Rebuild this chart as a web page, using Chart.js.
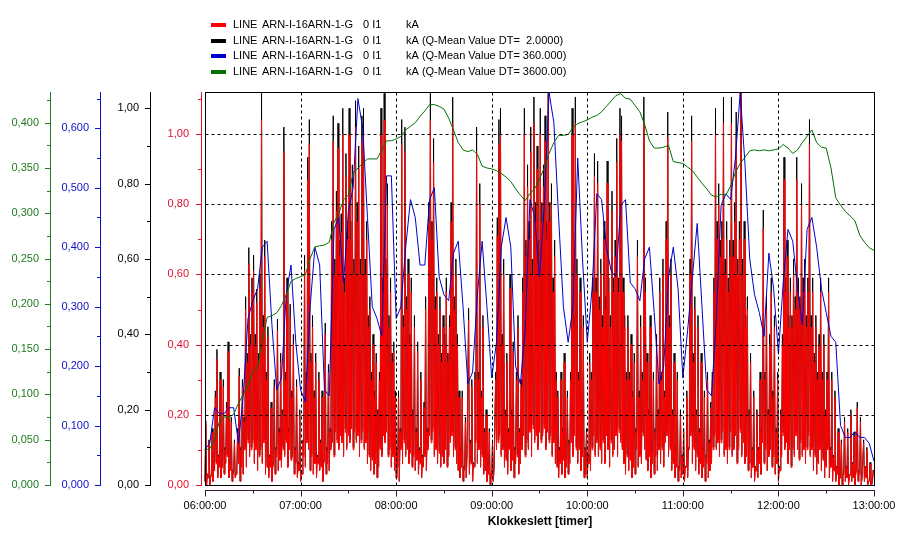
<!DOCTYPE html>
<html><head><meta charset="utf-8">
<script src="https://cdn.jsdelivr.net/npm/chart.js@4.4.1/dist/chart.umd.min.js"></script>
<style>html,body{margin:0;padding:0;background:#fff;}canvas{display:block;}</style>
</head><body>
<canvas id="c" width="901" height="542"></canvas>
<script>
// ---- data (kA), time in minutes after 06:00 ----
const RED_STEP = 1;   // minutes per raw bucket (min / max of the 2 s samples)
const MEAN_STEP = 3;  // minutes between mean samples
const redMax = [
0.17,0.03,0.12,0.02,0.15,0.05,0.25,0.36,0.08,0.30,
0.05,0.28,0.10,0.22,0.38,0.06,0.18,0.04,0.12,0.03,
0.15,0.31,0.10,0.28,0.18,0.50,0.35,0.63,0.40,0.55,
0.61,0.40,0.52,0.35,0.56,1.04,0.45,0.65,0.30,0.42,
0.08,0.22,0.05,0.28,0.10,0.44,0.15,0.35,0.20,0.95,
0.30,0.55,0.15,0.48,0.25,0.40,0.10,0.28,0.06,0.20,
0.04,0.12,0.61,0.30,0.87,0.97,0.35,0.45,0.25,0.35,
0.08,0.30,0.12,0.25,0.06,0.43,0.10,0.32,0.15,0.70,
0.98,0.60,0.78,0.96,0.65,0.72,1.00,0.55,0.88,0.70,
1.00,0.70,0.85,0.60,1.02,0.75,0.90,0.60,0.98,1.00,
0.60,0.70,0.45,0.50,0.30,0.40,0.25,0.35,0.20,0.30,
1.00,0.55,1.04,0.60,0.80,0.45,0.55,0.35,0.38,0.25,
0.10,0.25,0.15,0.97,0.45,0.95,0.50,0.60,0.40,0.55,
0.20,0.45,0.15,0.38,0.10,0.30,0.08,0.22,0.50,0.15,
0.75,1.04,0.70,0.92,0.50,0.55,0.40,0.50,0.35,0.45,
0.40,0.55,0.35,0.45,0.75,1.03,0.50,0.60,0.40,0.25,
0.10,0.25,0.05,0.18,0.08,0.47,0.12,0.28,0.06,0.30,
0.95,0.30,0.80,0.25,0.45,0.15,0.20,0.06,0.15,0.03,
0.12,0.05,0.30,0.71,0.97,1.00,0.40,0.60,0.20,0.35,
0.15,0.56,0.20,0.38,0.10,0.30,0.45,0.15,0.28,0.55,
1.00,0.65,0.85,0.70,0.95,0.60,1.03,0.75,0.90,0.65,
1.00,0.75,0.85,0.98,0.70,1.11,0.75,0.80,0.55,0.65,
0.30,0.25,0.10,0.30,0.15,0.35,0.08,0.25,0.12,0.30,
1.00,0.45,1.03,0.60,0.30,0.55,0.20,0.45,0.10,0.15,
0.08,0.35,0.30,0.55,0.88,0.55,0.86,0.50,0.60,0.45,
0.70,0.50,0.86,0.55,0.45,0.78,0.55,0.65,0.92,0.55,
1.00,0.98,0.55,0.45,0.30,0.45,0.30,0.40,0.25,0.35,
0.15,0.65,0.25,0.45,0.30,1.03,0.55,0.35,0.20,0.45,
0.10,0.30,0.15,0.40,0.20,0.55,0.30,0.60,0.25,0.70,
0.99,0.45,0.60,0.20,0.35,0.10,0.30,0.05,0.20,0.08,
0.15,0.05,0.25,0.10,0.60,0.98,0.35,0.50,0.20,0.45,
0.15,0.35,0.10,0.25,0.08,0.30,0.12,0.22,0.30,0.55,
1.00,0.70,0.80,0.65,0.70,1.03,0.60,0.70,0.55,0.65,
1.03,0.65,0.75,0.99,0.60,0.70,1.12,0.60,0.70,0.45,
0.50,0.20,0.35,0.10,0.25,0.05,0.20,0.10,0.30,0.15,
0.73,0.30,0.50,0.20,0.40,0.55,0.25,0.45,0.15,0.30,
0.05,0.20,0.40,0.87,0.55,0.65,0.45,0.55,0.45,0.60,
0.50,0.87,0.55,0.50,0.80,0.55,0.60,0.45,0.55,0.97,
0.45,0.55,0.35,0.45,0.30,0.40,0.55,0.30,0.40,0.20,
0.30,0.55,0.10,0.30,0.08,0.25,0.05,0.15,0.02,0.12,
0.03,0.18,0.05,0.15,0.02,0.20,0.06,0.14,0.03,0.22,
0.04,0.18,0.02,0.12,0.05,0.10,0.01,0.06,0.00,0.04,
0.12];
const redMin = [
0.01,0.00,0.02,0.00,0.03,0.01,0.04,0.06,0.02,0.05,
0.02,0.05,0.03,0.06,0.08,0.02,0.04,0.01,0.03,0.02,
0.04,0.06,0.01,0.05,0.03,0.10,0.05,0.12,0.08,0.10,
0.12,0.06,0.10,0.04,0.08,0.10,0.06,0.12,0.03,0.05,
0.02,0.05,0.01,0.06,0.03,0.08,0.04,0.07,0.05,0.10,
0.08,0.12,0.05,0.10,0.07,0.08,0.03,0.06,0.02,0.04,
0.01,0.03,0.08,0.05,0.12,0.10,0.04,0.08,0.03,0.06,
0.02,0.06,0.04,0.05,0.01,0.07,0.03,0.06,0.04,0.10,
0.12,0.08,0.15,0.12,0.10,0.14,0.12,0.08,0.15,0.10,
0.14,0.12,0.16,0.10,0.15,0.12,0.14,0.08,0.12,0.15,
0.10,0.12,0.06,0.08,0.04,0.07,0.03,0.06,0.02,0.05,
0.10,0.08,0.14,0.12,0.15,0.08,0.10,0.05,0.08,0.04,
0.02,0.05,0.01,0.10,0.06,0.12,0.08,0.10,0.06,0.09,
0.05,0.08,0.04,0.07,0.03,0.06,0.02,0.05,0.08,0.04,
0.10,0.14,0.12,0.15,0.08,0.10,0.06,0.09,0.05,0.08,
0.06,0.10,0.05,0.08,0.12,0.14,0.08,0.10,0.06,0.04,
0.02,0.05,0.01,0.04,0.02,0.08,0.03,0.06,0.01,0.05,
0.12,0.06,0.10,0.05,0.08,0.03,0.04,0.01,0.03,0.00,
0.02,0.01,0.05,0.10,0.12,0.14,0.08,0.10,0.05,0.07,
0.03,0.10,0.04,0.07,0.02,0.06,0.08,0.03,0.06,0.10,
0.14,0.08,0.12,0.10,0.15,0.08,0.16,0.12,0.14,0.10,
0.15,0.12,0.14,0.16,0.10,0.15,0.12,0.14,0.08,0.12,
0.06,0.05,0.02,0.06,0.03,0.07,0.02,0.05,0.03,0.06,
0.12,0.08,0.14,0.10,0.06,0.10,0.04,0.08,0.02,0.03,
0.02,0.06,0.04,0.10,0.14,0.08,0.12,0.08,0.10,0.06,
0.12,0.06,0.14,0.10,0.05,0.12,0.08,0.10,0.14,0.08,
0.15,0.12,0.10,0.06,0.03,0.08,0.04,0.07,0.02,0.05,
0.03,0.10,0.05,0.08,0.06,0.14,0.10,0.07,0.04,0.08,
0.02,0.06,0.03,0.08,0.04,0.10,0.06,0.10,0.05,0.12,
0.14,0.08,0.10,0.04,0.06,0.02,0.05,0.01,0.04,0.02,
0.03,0.01,0.05,0.02,0.10,0.14,0.06,0.10,0.04,0.08,
0.03,0.06,0.02,0.05,0.01,0.06,0.02,0.04,0.06,0.10,
0.14,0.10,0.12,0.08,0.12,0.15,0.08,0.10,0.06,0.10,
0.15,0.08,0.10,0.14,0.06,0.10,0.15,0.08,0.12,0.06,
0.08,0.04,0.06,0.02,0.05,0.01,0.04,0.02,0.06,0.03,
0.12,0.06,0.10,0.04,0.08,0.10,0.05,0.08,0.03,0.06,
0.01,0.04,0.08,0.14,0.10,0.12,0.06,0.10,0.05,0.10,
0.08,0.14,0.10,0.07,0.12,0.08,0.10,0.06,0.10,0.14,
0.08,0.10,0.04,0.08,0.03,0.06,0.10,0.04,0.07,0.02,
0.05,0.10,0.02,0.05,0.01,0.04,0.01,0.03,0.00,0.02,
0.00,0.03,0.01,0.02,0.00,0.03,0.01,0.02,0.00,0.04,
0.01,0.03,0.00,0.02,0.01,0.02,0.00,0.01,0.00,0.01,
0.03];
// the 2 s mean is practically identical to the raw signal
const blackMax = redMax;
const blackMin = redMin;
const blueValues = [
0.06,0.07,0.13,0.12,0.12,0.13,0.13,0.07,0.15,0.28,
0.31,0.33,0.40,0.41,0.27,0.16,0.18,0.32,0.37,0.24,
0.16,0.14,0.30,0.40,0.37,0.16,0.15,0.43,0.45,0.34,
0.46,0.50,0.65,0.60,0.45,0.30,0.28,0.25,0.52,0.52,
0.28,0.30,0.40,0.48,0.45,0.37,0.37,0.48,0.50,0.35,
0.32,0.31,0.39,0.41,0.30,0.17,0.19,0.32,0.41,0.30,
0.18,0.24,0.40,0.45,0.40,0.20,0.17,0.26,0.48,0.45,
0.35,0.47,0.66,0.61,0.45,0.30,0.24,0.30,0.55,0.38,
0.24,0.33,0.49,0.48,0.40,0.36,0.35,0.47,0.48,0.34,
0.33,0.31,0.38,0.40,0.29,0.17,0.20,0.35,0.40,0.33,
0.18,0.26,0.35,0.44,0.30,0.16,0.15,0.28,0.47,0.49,
0.48,0.55,0.66,0.54,0.38,0.32,0.29,0.25,0.39,0.33,
0.22,0.34,0.43,0.41,0.33,0.27,0.43,0.45,0.40,0.33,
0.29,0.25,0.24,0.10,0.08,0.08,0.09,0.08,0.08,0.07,
0.04];
const greenValues = [
0.039,0.040,0.050,0.070,0.075,0.075,0.078,0.090,0.100,0.110,
0.125,0.130,0.160,0.185,0.187,0.190,0.198,0.210,0.225,0.228,
0.230,0.232,0.250,0.263,0.264,0.265,0.268,0.290,0.300,0.315,
0.320,0.344,0.350,0.355,0.360,0.360,0.360,0.370,0.380,0.380,
0.382,0.385,0.392,0.396,0.400,0.407,0.413,0.420,0.420,0.418,
0.415,0.405,0.392,0.378,0.370,0.368,0.370,0.365,0.352,0.350,
0.349,0.347,0.344,0.340,0.335,0.327,0.320,0.314,0.322,0.327,
0.338,0.350,0.366,0.378,0.386,0.386,0.387,0.395,0.399,0.401,
0.403,0.406,0.408,0.412,0.418,0.424,0.430,0.432,0.427,0.426,
0.419,0.412,0.398,0.380,0.372,0.372,0.373,0.375,0.357,0.356,
0.355,0.351,0.347,0.340,0.333,0.327,0.320,0.318,0.321,0.320,
0.330,0.345,0.355,0.362,0.369,0.370,0.369,0.370,0.369,0.370,
0.371,0.376,0.372,0.366,0.370,0.378,0.385,0.392,0.378,0.373,
0.372,0.350,0.317,0.309,0.302,0.297,0.292,0.276,0.268,0.262,
0.259];

const xTickValues = [0,60,120,180,240,300,360,420];
const xTickLabels = ['06:00:00','07:00:00','08:00:00','09:00:00','10:00:00','11:00:00','12:00:00','13:00:00'];
const xMinorTicks = [30,90,150,210,270,330,390];
const redTicks = [0,0.2,0.4,0.6,0.8,1.0];
const redMinor = [0.1,0.3,0.5,0.7,0.9,1.1];
const blackTicks = [0,0.2,0.4,0.6,0.8,1.0];
const blackMinor = [0.1,0.3,0.5,0.7,0.9];
const blueTicks = [0,0.1,0.2,0.3,0.4,0.5,0.6];
const blueMinor = [0.05,0.15,0.25,0.35,0.45,0.55,0.65];
const greenTicks = [0,0.05,0.1,0.15,0.2,0.25,0.3,0.35,0.4];
const greenMinor = [0.025,0.075,0.125,0.175,0.225,0.275,0.325,0.375,0.425];

const legendPrefix = ['LINE', 'ARN-I-16ARN-1-G', '0 I1'];
const legendUnits = ['kA', 'kA (Q-Mean Value DT=  2.0000)', 'kA (Q-Mean Value DT= 360.000)', 'kA (Q-Mean Value DT= 3600.00)'];
const xTitle = 'Klokkeslett [timer]';

// ---- styling ----
const FONT = '"Liberation Sans", Arial, sans-serif';
const C_RED = '#ff0000', C_BLACK = '#000000', C_BLUE = '#0000cc', C_GREEN = '#007000';
const AX_RED = '#e0102e', AX_BLACK = '#000000', AX_BLUE = '#1010c8', AX_GREEN = '#1e7a1e';
const AX_X = '#3a1a3a';

Chart.defaults.font.family = FONT;
Chart.defaults.font.size = 11;

// each raw bucket contributes its minimum and its maximum
const bucketPts = (mins, maxs) => {
  const out = [];
  mins.forEach((lo, i) => {
    out.push({x: i * RED_STEP, y: lo});
    out.push({x: i * RED_STEP + RED_STEP / 2, y: maxs[i]});
  });
  return out;
};
const meanTimes = blueValues.map((_, i) => i * MEAN_STEP);
const pts = (times, vals) => vals.map((v, i) => ({x: times[i], y: v}));

function yAxis(weight, width, min, max, ticks, color, decimals, padding) {
  return {
    type: 'linear', position: 'left', weight, min, max,
    afterBuildTicks: s => { s.ticks = ticks.map(v => ({value: v})); },
    afterFit: s => { s.width = width; },
    grid: {display: false, drawTicks: false},
    border: {display: false},
    ticks: {padding, color, autoSkip: false,
      callback: v => v.toFixed(decimals).replace('.', ',')}
  };
}

const axisList = [
  ['yGreen', greenTicks, greenMinor, AX_GREEN],
  ['yBlue', blueTicks, blueMinor, AX_BLUE],
  ['yBlack', blackTicks, blackMinor, AX_BLACK],
  ['yRed', redTicks, redMinor, AX_RED]
];

const deco = {
  id: 'deco',
  afterDatasetsDraw(chart) {
    const ctx = chart.ctx, xs = chart.scales.x, yr = chart.scales.yRed;
    const top = chart.chartArea.top;
    const x0 = Math.round(xs.getPixelForValue(xTickValues[0])) + 0.5;
    const x1 = Math.round(xs.getPixelForValue(xTickValues[xTickValues.length - 1])) + 0.5;
    const yb = Math.round(yr.getPixelForValue(0)) + 0.5;
    ctx.save();
    ctx.strokeStyle = '#000'; ctx.lineWidth = 1;
    ctx.setLineDash([3, 3]);
    ctx.beginPath();
    redTicks.slice(1).forEach(v => {
      const y = Math.round(yr.getPixelForValue(v)) + 0.5;
      ctx.moveTo(x0, y); ctx.lineTo(x1, y);
    });
    xTickValues.slice(1, -1).forEach(v => {
      const x = Math.round(xs.getPixelForValue(v)) + 0.5;
      ctx.moveTo(x, top + 0.5); ctx.lineTo(x, yb);
    });
    ctx.stroke();
    ctx.setLineDash([]);
    ctx.strokeRect(x0, top + 0.5, x1 - x0, yb - top - 0.5);
    ctx.restore();
  },
  afterDraw(chart) {
    const ctx = chart.ctx, xs = chart.scales.x;
    const top = chart.chartArea.top;
    ctx.save();
    ctx.lineWidth = 1;
    axisList.forEach(([id, maj, min, col]) => {
      const s = chart.scales[id];
      const x = Math.round(s.right) + 0.5;
      const yb = Math.round(s.getPixelForValue(0)) + 0.5;
      ctx.strokeStyle = col;
      ctx.beginPath();
      ctx.moveTo(x, top); ctx.lineTo(x, yb + 0.5);
      maj.forEach(v => { const y = Math.round(s.getPixelForValue(v)) + 0.5; ctx.moveTo(x - 5.5, y); ctx.lineTo(x, y); });
      min.forEach(v => { const y = Math.round(s.getPixelForValue(v)) + 0.5; ctx.moveTo(x - 3.5, y); ctx.lineTo(x, y); });
      ctx.stroke();
    });
    const yx = Math.round(chart.chartArea.bottom) + 0.5;
    const xa = Math.round(xs.getPixelForValue(xTickValues[0])) + 0.5;
    const xb = Math.round(xs.getPixelForValue(xTickValues[xTickValues.length - 1])) + 0.5;
    ctx.strokeStyle = AX_X;
    ctx.beginPath();
    ctx.moveTo(xa - 0.5, yx); ctx.lineTo(xb + 0.5, yx);
    xTickValues.forEach(v => { const x = Math.round(xs.getPixelForValue(v)) + 0.5; ctx.moveTo(x, yx); ctx.lineTo(x, yx + 6); });
    xMinorTicks.forEach(v => { const x = Math.round(xs.getPixelForValue(v)) + 0.5; ctx.moveTo(x, yx); ctx.lineTo(x, yx + 3); });
    ctx.stroke();
    ctx.fillStyle = '#000';
    ctx.font = 'bold 12px ' + FONT;
    ctx.textAlign = 'center'; ctx.textBaseline = 'middle';
    ctx.fillText(xTitle, (xa + xb) / 2, 522);
    ctx.font = '11px ' + FONT;
    ctx.textAlign = 'left';
    chart.data.datasets.forEach((ds, i) => {
      const y = 25 + i * 15.6;
      ctx.fillStyle = ds.borderColor;
      ctx.fillRect(211, Math.round(y) - 2, 15, 4);
      ctx.fillStyle = '#000';
      ctx.fillText(legendPrefix[0], 233, y);
      ctx.fillText(legendPrefix[1], 262, y);
      ctx.fillText(legendPrefix[2], 363, y);
      ctx.fillText(legendUnits[i], 406, y);
    });
    ctx.restore();
  }
};

const lineDs = (label, data, color, axis, order) => ({
  label, data, borderColor: color, backgroundColor: color, yAxisID: axis, order,
  borderWidth: 1, pointRadius: 0, tension: 0, fill: false
});

new Chart(document.getElementById('c'), {
  type: 'line',
  data: {
    datasets: [
      lineDs(legendPrefix.join(' ') + ' ' + legendUnits[0], bucketPts(redMin, redMax), C_RED, 'yRed', 2),
      lineDs(legendPrefix.join(' ') + ' ' + legendUnits[1], bucketPts(blackMin, blackMax), C_BLACK, 'yBlack', 3),
      lineDs(legendPrefix.join(' ') + ' ' + legendUnits[2], pts(meanTimes, blueValues), C_BLUE, 'yBlue', 1),
      lineDs(legendPrefix.join(' ') + ' ' + legendUnits[3], pts(meanTimes, greenValues), C_GREEN, 'yGreen', 0)
    ]
  },
  options: {
    responsive: false, animation: false, devicePixelRatio: 1,
    layout: {padding: {left: 0, right: 27, top: 92, bottom: 0}},
    plugins: {legend: {display: false}, tooltip: {enabled: false}, title: {display: false}},
    scales: {
      x: {
        type: 'linear', position: 'bottom', min: -2.51, max: 420,
        afterBuildTicks: s => { s.ticks = xTickValues.map(v => ({value: v})); },
        afterFit: s => { s.height = 52; s.paddingLeft = 0; s.paddingRight = 0; },
        grid: {display: false, drawTicks: false},
        border: {display: false},
        ticks: {padding: 9, color: '#000', autoSkip: false, maxRotation: 0,
          callback: (v, i) => xTickLabels[i]}
      },
      yGreen: yAxis(4, 50, -0.00552, 0.4339, greenTicks, AX_GREEN, 3, 11),
      yBlue: yAxis(3, 50, -0.0084, 0.661, blueTicks, AX_BLUE, 3, 11),
      yBlack: yAxis(2, 50, -0.01326, 1.0432, blackTicks, AX_BLACK, 2, 11),
      yRed: yAxis(1, 51, -0.01425, 1.1197, redTicks, AX_RED, 2, 12)
    }
  },
  plugins: [deco]
});
</script></body></html>
